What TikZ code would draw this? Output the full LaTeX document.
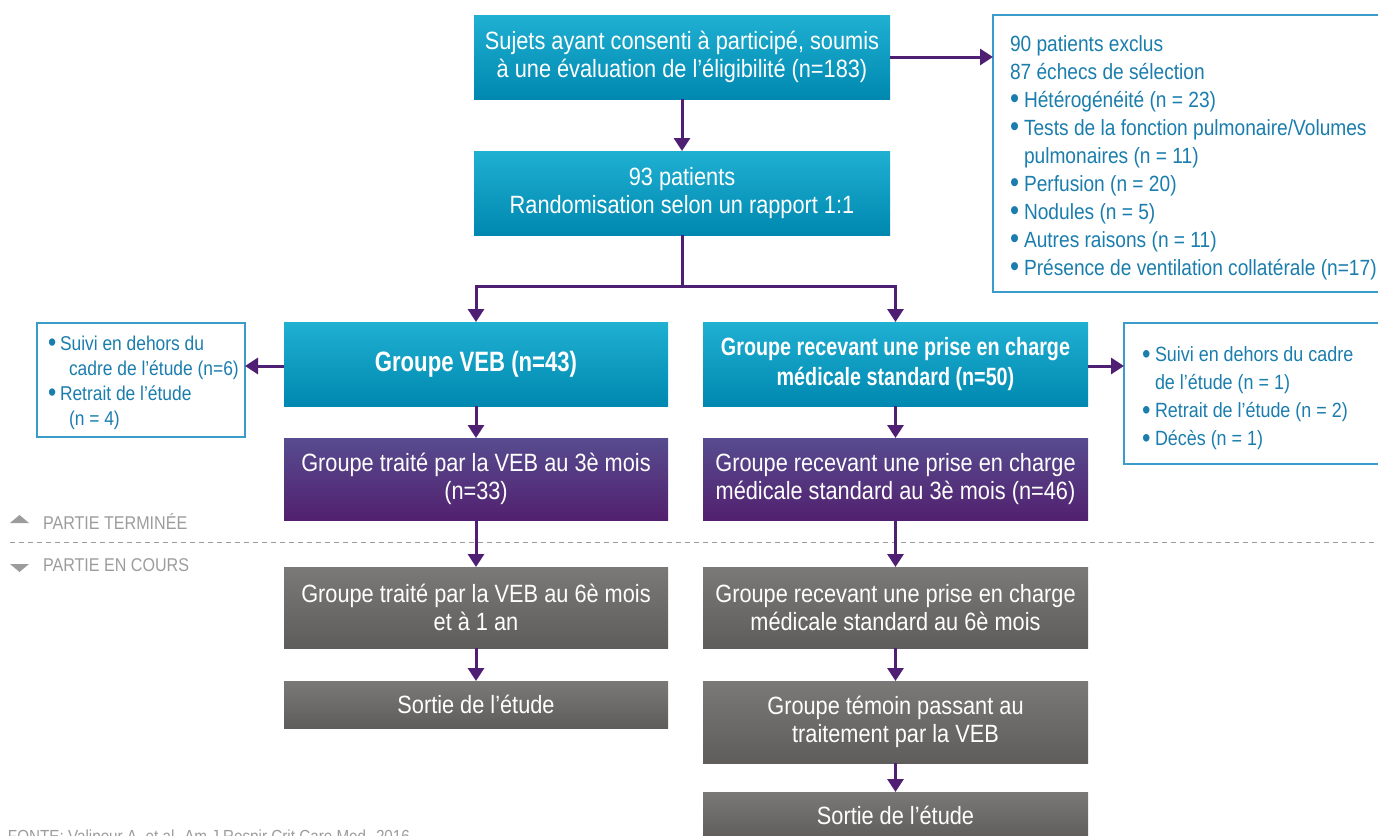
\documentclass[tikz,border=0pt]{standalone}
\usepackage{fontspec}
\setmainfont{Liberation Sans}[FakeStretch=0.87,BoldFeatures={FakeStretch=0.79}]
\usetikzlibrary{arrows.meta}
\definecolor{cyantop}{HTML}{1FB0D2}
\definecolor{cyanbot}{HTML}{0088B0}
\definecolor{purpletop}{HTML}{574C8F}
\definecolor{purplebot}{HTML}{52206F}
\definecolor{greytop}{HTML}{7B7977}
\definecolor{greybot}{HTML}{5E5D5B}
\definecolor{flowpurple}{HTML}{4E1F72}
\definecolor{frameblue}{HTML}{3A9CCB}
\definecolor{noteblue}{HTML}{1A7DAD}
\definecolor{partgrey}{HTML}{9C9C9C}
\newcommand{\puce}[1]{\makebox[#1][l]{\raisebox{-0.12ex}{\scalebox{1.35}{\textbullet}}}}
\begin{document}
\begin{tikzpicture}[x=0.5pt,y=-0.5pt,inner sep=0pt,outer sep=0pt,
box/.style={rectangle,text=white,align=center,font=\fontsize{12.5}{14}\selectfont},
bluebox/.style={box,top color=cyantop,bottom color=cyanbot},
purplebox/.style={box,top color=purpletop,bottom color=purplebot},
greybox/.style={box,top color=greytop,bottom color=greybot},
widebox/.style={minimum width=208pt,minimum height=42pt},
colbox/.style={minimum width=192pt,minimum height=#1},
frame/.style={draw=frameblue,line width=0.8pt,rectangle,anchor=north west},
note/.style={text=noteblue,align=left,anchor=west},
flow/.style={draw=flowpurple,line width=1.5pt,-{Triangle[width=8pt,length=6.5pt]}},
part/.style={text=partgrey,anchor=west,font=\fontsize{9.25}{11}\selectfont}]
\useasboundingbox (0,0) rectangle (1378,836);
% main column
\draw (682,57) node[bluebox,widebox] (consent) {Sujets ayant consenti à participé, soumis\\à une évaluation de l’éligibilité (n=183)};
\draw (682,193) node[bluebox,widebox] (random) {93 patients\\Randomisation selon un rapport 1:1};
% exclusions
\draw (993,15) node[frame,minimum width=200pt,minimum height=138.5pt] (exclframe) {};
\draw (exclframe.west) ++(8.5pt,-2pt) node[note,font=\fontsize{11}{14}\selectfont] (excl) {90 patients exclus\\87 échecs de sélection\\
\puce{7pt}Hétérogénéité (n = 23)\\
\puce{7pt}Tests de la fonction pulmonaire/Volumes\\
\hspace*{7pt}pulmonaires (n = 11)\\
\puce{7pt}Perfusion (n = 20)\\
\puce{7pt}Nodules (n = 5)\\
\puce{7pt}Autres raisons (n = 11)\\
\puce{7pt}Présence de ventilation collatérale (n=17)};
% groups
\draw (476,364) node[bluebox,colbox=42pt,font=\bfseries\fontsize{14}{15}\selectfont] (veb) {Groupe VEB (n=43)};
\draw (895.5,364) node[bluebox,colbox=42pt,minimum width=192.5pt,font=\bfseries\fontsize{12.5}{15}\selectfont] (std) {Groupe recevant une prise en charge\\médicale standard (n=50)};
\draw (37,323) node[frame,minimum width=104pt,minimum height=57pt] (lostvebframe) {};
\draw (lostvebframe.west) ++(5.5pt,-1.5pt) node[note,font=\fontsize{10}{12.5}\selectfont] (lostveb) {\puce{6pt}Suivi en dehors du\\
\hspace*{10.5pt}cadre de l’étude (n=6)\\
\puce{6pt}Retrait de l’étude\\
\hspace*{10.5pt}(n = 4)};
\draw (1124,323) node[frame,minimum width=135pt,minimum height=70.5pt] (loststdframe) {};
\draw (loststdframe.west) ++(9pt,-2.5pt) node[note,font=\fontsize{10.3}{14}\selectfont] (loststd) {\puce{6.5pt}Suivi en dehors du cadre\\
\hspace*{6.5pt}de l’étude (n = 1)\\
\puce{6.5pt}Retrait de l’étude (n = 2)\\
\puce{6.5pt}Décès (n = 1)};
\draw (476,479) node[purplebox,colbox=41pt] (veb3) {Groupe traité par la VEB au 3è mois\\(n=33)};
\draw (895.5,479) node[purplebox,colbox=41pt,minimum width=192.5pt] (std3) {Groupe recevant une prise en charge\\médicale standard au 3è mois (n=46)};
% study phases
\draw[partgrey,line width=0.5pt,dash pattern=on 2.5pt off 2pt] (10,542) -- (1378,542);
\fill[partgrey] (10,523) -- (29,523) -- (19.5,515) -- cycle;
\fill[partgrey] (10,564) -- (29,564) -- (19.5,572) -- cycle;
\draw (43,521) node[part] (done) {PARTIE TERMINÉE};
\draw (43,565) node[part] (ongoing) {PARTIE EN COURS};
\draw (476,607.5) node[greybox,colbox=40.5pt] (veb6) {Groupe traité par la VEB au 6è mois\\et à 1 an};
\draw (895.5,607.5) node[greybox,colbox=40.5pt,minimum width=192.5pt] (std6) {Groupe recevant une prise en charge\\médicale standard au 6è mois};
\draw (476,704.5) node[greybox,colbox=23.5pt] (vebout) {Sortie de l’étude};
\draw (895.5,722) node[greybox,colbox=41pt,minimum width=192.5pt] (cross) {Groupe témoin passant au\\traitement par la VEB};
\draw (895.5,815.5) node[greybox,colbox=23.5pt,minimum width=192.5pt] (stdout) {Sortie de l’étude};
\draw (8,838) node[part,font=\fontsize{8.75}{10}\selectfont] (source) {FONTE: Valipour A, et al. Am J Respir Crit Care Med. 2016};
% connectors
\draw[flow] (consent) -- (random);
\draw[flow] (consent.east) -- (consent.east -| exclframe.west);
\draw[flowpurple,line width=1.5pt] (random.south) -- ++(0,51) coordinate (split);
\draw[flow] (split) -| (veb.north);
\draw[flow] (split) -| (std.north);
\draw[flow] (veb.west) ++(0,2) -- (lostvebframe.east |- 0,366);
\draw[flow] (std.east) ++(0,2) -- (loststdframe.west |- 0,366);
\draw[flow] (veb) -- (veb3);
\draw[flow] (std) -- (std3);
\draw[flow] (veb3) -- (veb6);
\draw[flow] (std3) -- (std6);
\draw[flow] (veb6) -- (vebout);
\draw[flow] (std6) -- (cross);
\draw[flow] (cross) -- (stdout);
\end{tikzpicture}
\end{document}
